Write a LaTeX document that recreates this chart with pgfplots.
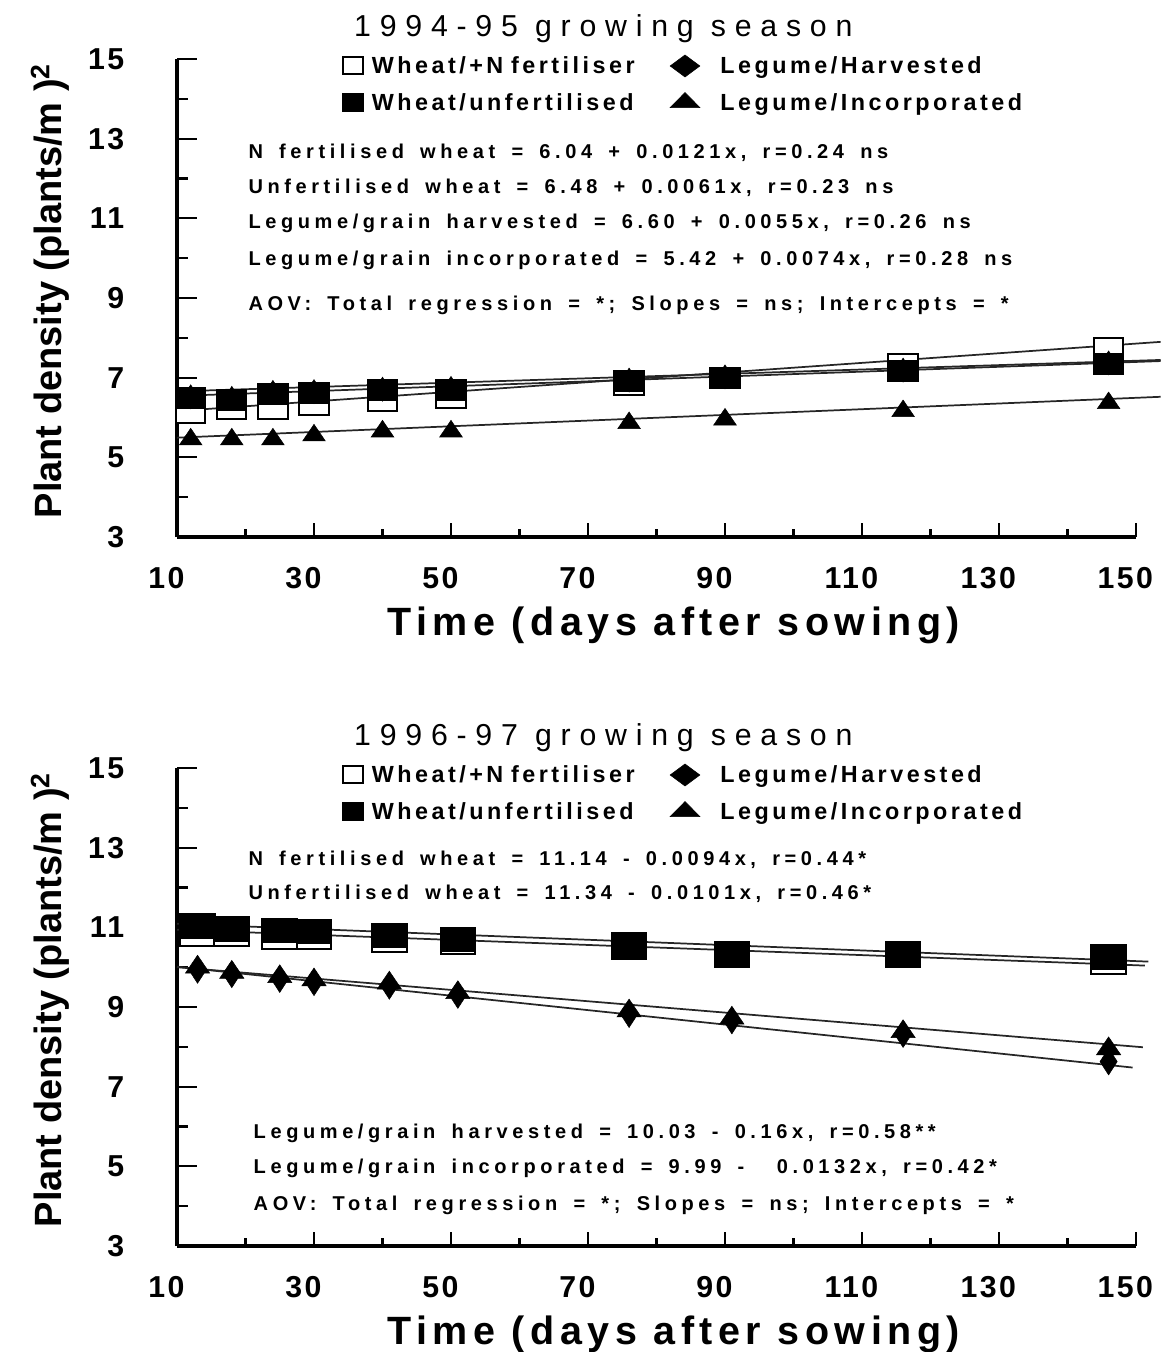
\documentclass[border=0pt]{standalone}
\usepackage{fontspec}
\setmainfont{Liberation Sans}
\newfontfamily\tickfont[LetterSpace=8]{Liberation Sans}
\newfontfamily\titlefont[LetterSpace=29]{Liberation Sans}
\newfontfamily\xlabfont[LetterSpace=14]{Liberation Sans}
\newfontfamily\legfont[LetterSpace=15,WordSpace=1.5]{Liberation Sans}
\newfontfamily\eqfont[LetterSpace=23,WordSpace=1.6]{Liberation Sans}
\usepackage{pgfplots}
\pgfplotsset{compat=1.18}

\pgfplotsset{
  panel/.style={
    scale only axis, width=719.25pt, height=358.5pt,
    xmin=10, xmax=150, ymin=3, ymax=15,
    axis lines=left, axis line style={-, line width=2.8pt},
    xtick={10,30,...,150}, minor xtick={20,40,...,140},
    ytick={3,5,...,15}, minor ytick={4,6,...,14},
    tick align=inside, major tick length=15pt, minor tick length=8pt,
    tick style={line width=1.6pt, black},
    xtick style={/pgfplots/major tick length=10.5pt, /pgfplots/minor tick length=6pt},
    /pgf/number format/assume math mode=true,
    ticklabel style={font=\tickfont\bfseries\fontsize{22.7}{26}\selectfont, inner sep=0pt},
    xticklabel style={yshift=-22.5pt, xshift=-8pt},
    yticklabel style={anchor=east, xshift=-39.4pt},
    clip=false,
    legend columns=2,
    legend cell align=left,
    legend style={draw=none, fill=none, inner sep=0pt, outer sep=0pt,
      at={(0.1726,1.0105)}, anchor=north west,
      font=\legfont\bfseries\fontsize{17.5}{20}\selectfont,
      column sep=7pt, row sep=9.5pt,
      /tikz/column 2/.style={column sep=18.6pt},
      /tikz/column 3/.style={column sep=15.35pt},
      nodes={inner sep=0pt, text height=15pt, text depth=3pt,
             text width=205pt, align=left, anchor=west}},
  },
  fitline/.style={forget plot, no markers, line width=1.3pt, black!85},
  openmk/.style={only marks, mark=square*, mark size=#1,
    mark options={fill=white, draw=black, line width=1.5pt, yscale=0.68},
    legend image code/.code={\draw[mark=square*, mark size=7.5pt,
      mark options={fill=white, draw=black, line width=1.5pt, yscale=0.85}]
      plot coordinates {(0pt,0pt)};}},
  fillmk/.style={only marks, mark=square*, mark size=#1,
    mark options={fill=black, draw=black, line width=1.5pt, yscale=0.68},
    legend image code/.code={\draw[mark=square*, mark size=7.5pt,
      mark options={fill=black, draw=black, line width=1.5pt, yscale=0.85}]
      plot coordinates {(0pt,0pt)};}},
  diamk/.style={only marks, mark=diamond*, mark size=#1,
    mark options={fill=black, draw=black, xscale=0.86},
    legend image code/.code={\draw[mark=diamond*, mark size=8.25pt,
      mark options={fill=black, draw=black, xscale=1.8}]
      plot coordinates {(0pt,0pt)};}},
  trimk/.style={only marks, mark=triangle*, mark size=#1,
    mark options={fill=black, draw=black, yscale=0.85},
    legend image code/.code={\draw[mark=triangle*, mark size=13pt,
      mark options={fill=black, draw=black, yscale=0.58}]
      plot coordinates {(0pt,0pt)};}},
}

\begin{document}
\begin{tikzpicture}
\useasboundingbox (0,0) rectangle (871.5pt,-1014pt);

% ---------- 1994-95 ----------
\begin{axis}[panel, at={(132.75pt,-402.75pt)}, anchor=south west]
\addplot[fitline] coordinates {(10,6.161) (153.6,7.899)};
\addplot[fitline] coordinates {(10,6.541) (153.6,7.417)};
\addplot[fitline] coordinates {(10,6.655) (153.6,7.445)};
\addplot[fitline] coordinates {(10,5.494) (153.6,6.520)};
\addplot[openmk=11pt] coordinates {
  (12,6.12) (18,6.21) (24,6.21) (30,6.31) (40,6.42)
  (50,6.50) (76,6.81) (90,6.99) (116,7.35) (146,7.74)};
\addlegendentry{Wheat/+N fertiliser}
\addplot[diamk=9pt] coordinates {
  (12,6.52) (18,6.48) (24,6.63) (30,6.65) (40,6.71)
  (50,6.73) (76,6.94) (90,7.02) (116,7.19) (146,7.37)};
\addlegendentry{Legume/Harvested}
\addplot[fillmk=11pt] coordinates {
  (12,6.49) (18,6.45) (24,6.60) (30,6.62) (40,6.68)
  (50,6.70) (76,6.91) (90,6.99) (116,7.16) (146,7.34)};
\addlegendentry{Wheat/unfertilised}
\addplot[trimk=9.8pt] coordinates {
  (12,5.45) (18,5.45) (24,5.45) (30,5.55) (40,5.65)
  (50,5.65) (76,5.86) (90,5.95) (116,6.16) (146,6.36)};
\addlegendentry{Legume/Incorporated}
\end{axis}

% ---------- 1996-97 ----------
\begin{axis}[panel, at={(132.75pt,-934.5pt)}, anchor=south west]
\addplot[fitline] coordinates {(10,11.09) (151.8,10.14)};
\addplot[fitline] coordinates {(10,10.94) (151.3,10.04)};
\addplot[fitline] coordinates {(10,10.00) (151,7.99)};
\addplot[fitline] coordinates {(10,10.01) (149.5,7.48)};
\addplot[openmk=13pt] coordinates {
  (13,10.82) (18,10.84) (25,10.74) (30,10.76) (41,10.67)
  (51,10.63) (76,10.50) (91,10.30) (116,10.30) (146,10.13)};
\addlegendentry{Wheat/+N fertiliser}
\addplot[diamk=10pt] coordinates {
  (13,9.93) (18,9.82) (25,9.70) (30,9.62) (41,9.53)
  (51,9.30) (76,8.82) (91,8.66) (116,8.32) (146,7.63)};
\addlegendentry{Legume/Harvested}
\addplot[fillmk=13pt] coordinates {
  (13,11.04) (18,10.96) (25,10.92) (30,10.90) (41,10.79)
  (51,10.69) (76,10.55) (91,10.34) (116,10.34) (146,10.26)};
\addlegendentry{Wheat/unfertilised}
\addplot[trimk=10.5pt] coordinates {
  (13,10.00) (18,9.87) (25,9.76) (30,9.68) (41,9.60)
  (51,9.36) (76,8.90) (91,8.72) (116,8.38) (146,7.95)};
\addlegendentry{Legume/Incorporated}
\end{axis}

% titles
\node[font=\titlefont\fontsize{22.7}{26}\selectfont, anchor=base] at (452.5pt,-27.5pt) {1994-95 growing season};
\node[font=\titlefont\fontsize{22.7}{26}\selectfont, anchor=base] at (452.5pt,-559.25pt) {1996-97 growing season};

% axis labels
\node[font=\xlabfont\bfseries\fontsize{29.6}{34}\selectfont, anchor=base] at (505.35pt,-476.25pt) {Time (days after sowing)};
\node[font=\xlabfont\bfseries\fontsize{29.6}{34}\selectfont, anchor=base] at (505.35pt,-1008pt) {Time (days after sowing)};
\node[font=\bfseries\fontsize{28.5}{32}\selectfont, rotate=90, anchor=base] at (45.98pt,-218.25pt) {Plant density (plants/m )\textsuperscript{2}};
\node[font=\bfseries\fontsize{28.5}{32}\selectfont, rotate=90, anchor=base] at (45.98pt,-750pt) {Plant density (plants/m )\textsuperscript{2}};

% regression equations
\begin{scope}[every node/.style={font=\eqfont\bfseries\fontsize{15}{17}\selectfont, anchor=base west, inner sep=0pt}]
\node at (186.2pt,-118.7pt) {N fertilised wheat = 6.04 + 0.0121x, r=0.24 ns};
\node at (186.2pt,-145pt) {Unfertilised wheat = 6.48 + 0.0061x, r=0.23 ns};
\node at (186.2pt,-171.2pt) {Legume/grain harvested = 6.60 + 0.0055x, r=0.26 ns};
\node at (186.2pt,-198.75pt) {Legume/grain incorporated = 5.42 + 0.0074x, r=0.28 ns};
\node at (186.2pt,-232.5pt) {AOV: Total regression = *; Slopes = ns; Intercepts = *};
\node at (186.2pt,-648.75pt) {N fertilised wheat = 11.14 - 0.0094x, r=0.44*};
\node at (186.2pt,-674.25pt) {Unfertilised wheat = 11.34 - 0.0101x, r=0.46*};
\node at (190.1pt,-853.7pt) {Legume/grain harvested = 10.03 - 0.16x, r=0.58**};
\node at (190.1pt,-880pt) {Legume/grain incorporated = 9.99 -\ \ 0.0132x, r=0.42*};
\node at (190.1pt,-907.5pt) {AOV: Total regression = *; Slopes = ns; Intercepts = *};
\end{scope}
\end{tikzpicture}
\end{document}
